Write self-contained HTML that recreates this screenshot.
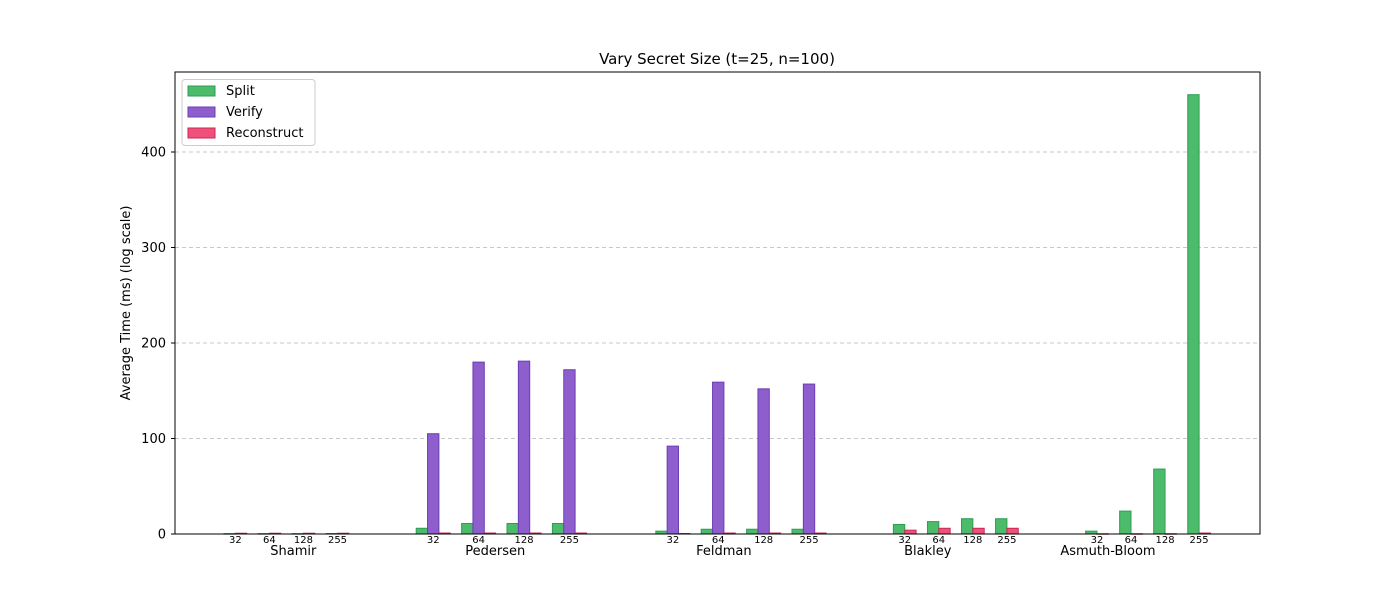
<!DOCTYPE html>
<html><head><meta charset="utf-8"><style>
body{margin:0;background:#fff;font-family:"Liberation Sans","DejaVu Sans",sans-serif;}
svg text{font-family:"DejaVu Sans","Liberation Sans",sans-serif;}
</style></head><body>
<svg width="1400" height="600" id="chart">
<rect x="0" y="0" width="1400" height="600" fill="#fff"/>
<text x="717" y="64" text-anchor="middle" font-size="15">Vary Secret Size (t=25, n=100)</text>
<text transform="translate(130,303) rotate(-90)" text-anchor="middle" font-size="13">Average Time (ms) (log scale)</text>
<g id="grid"></g><g id="bars"></g><g id="labels"></g>
<rect x="175" y="72" width="1085" height="462" fill="none" stroke="#000" stroke-width="1"/>
<g>
<rect x="182" y="79.5" width="133" height="66" rx="3" fill="#fff" stroke="#ccc"/>
<g><rect x="188" y="86" width="27" height="10" fill="#4cbb6b" stroke="#2f9e52"/><text x="226" y="95" font-size="13">Split</text></g>
<g><rect x="188" y="107" width="27" height="10" fill="#8e5ecc" stroke="#6b3db6"/><text x="226" y="116" font-size="13">Verify</text></g>
<g><rect x="188" y="128" width="27" height="10" fill="#f0507c" stroke="#c72a55"/><text x="226" y="137" font-size="13">Reconstruct</text></g>
</g>
</svg>
<script>
const algorithms=["Shamir","Pedersen","Feldman","Blakley","Asmuth-Bloom"];
const sizes=["32","64","128","255"];
const splitVals=[[0.4,0.4,0.4,0.5],[6,11,11,11],[3,5,5,5],[10,13,16,16],[3,24,68,460]];
const verifyVals=[null,[105,180,181,172],[92,159,152,157],null,null];
const reconVals=[[0.8,0.8,0.8,0.8],[1,1,1,1],[0.5,1,1,1],[4,6,6,6],[0.3,0.3,0.3,1]];
const yTicks=[0,100,200,300,400];
const groupGaps=[0,56,58,56,56];
const groupLabelOffsets=[58,62,51,23,11];
const svgNS="http://www.w3.org/2000/svg";
const y0=534,pxPer=0.955;
function yScale(v){return y0-v*pxPer;}
const W=11.35;
const grid=document.getElementById('grid'),bars=document.getElementById('bars'),labels=document.getElementById('labels');
function mk(tag,attrs,parent){const e=document.createElementNS(svgNS,tag);for(const k in attrs)e.setAttribute(k,attrs[k]);parent.appendChild(e);return e;}
yTicks.forEach(t=>{
  const y=yScale(t);
  if(t>0){const g=mk('line',{x1:175,x2:1260,y1:y,y2:y,stroke:'#c8c8c8','stroke-dasharray':'4,3'},grid);
  
  }
  const tk=mk('line',{x1:171,x2:175,y1:y,y2:y,stroke:'#000'},labels);
  
  
  const tx=mk('text',{x:166,y:y+4.5,'text-anchor':'end','font-size':13},labels);tx.textContent=t;
  
  
});
const series=[{vals:splitVals,fill:'#4cbb6b',stroke:'#2f9e52',name:'split'},{vals:verifyVals,fill:'#8e5ecc',stroke:'#6b3db6',name:'verify'},{vals:reconVals,fill:'#f0507c',stroke:'#c72a55',name:'reconstruct'}];
let cursor=224;
algorithms.forEach((alg,gi)=>{
  cursor+=groupGaps[gi];
  let firstLabel=null;
  sizes.forEach((s,si)=>{
    const present=series.filter(se=>se.vals[gi]);
    const start=cursor;
    present.forEach((se,bi)=>{
      const v=se.vals[gi][si];
      const r=mk('rect',{x:start+bi*W,y:yScale(v),width:W,height:Math.max(v*pxPer,0.5),fill:se.fill,stroke:se.stroke,'stroke-width':1},bars);
      
      
    });
    const cx=start+present.length*W/2;
    if(firstLabel===null)firstLabel=cx;
    const t=mk('text',{x:cx,y:543,'text-anchor':'middle','font-size':10},labels);t.textContent=s;
    
    
    cursor+=(present.length+1)*W;
  });
  const gl=mk('text',{x:firstLabel+groupLabelOffsets[gi],y:555,'text-anchor':'middle','font-size':13},labels);gl.textContent=alg;
  
  
});
</script>
</body></html>
